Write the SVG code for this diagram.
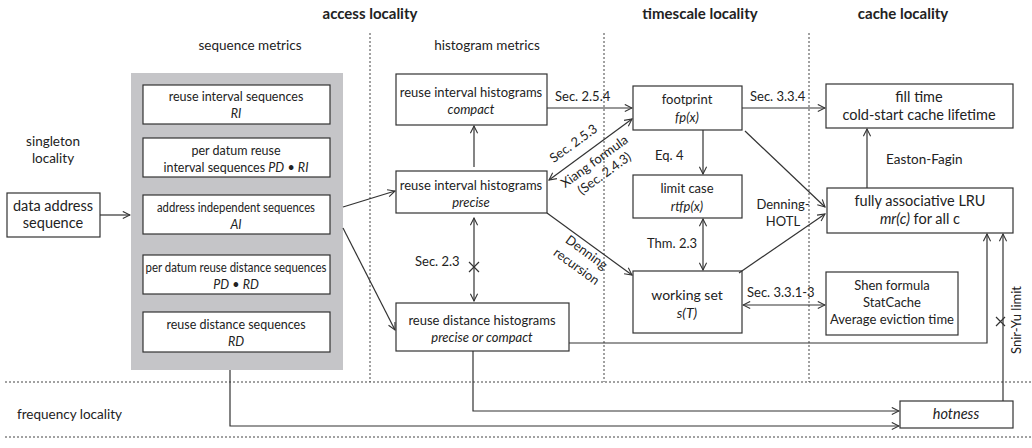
<svg xmlns="http://www.w3.org/2000/svg" width="1032" height="448" viewBox="0 0 1032 448">
<defs>
<marker id="ah" viewBox="0 0 10 10" refX="9" refY="5" markerWidth="9" markerHeight="9" orient="auto-start-reverse" markerUnits="userSpaceOnUse">
<path d="M1,1 L9,5 L1,9" fill="none" stroke="#333" stroke-width="1.2"/>
</marker>
<style>
text{font-family:Lato,"Open Sans","Liberation Sans",sans-serif;fill:#222;font-size:13px}
.hd{font-weight:bold;font-size:15px;text-anchor:middle}
.c{text-anchor:middle}
.i{font-style:italic}
.box{fill:#fff;stroke:#333;stroke-width:1.2}
.dot{stroke:#444;stroke-width:1;stroke-dasharray:2 2;fill:none}
.ln{stroke:#333;stroke-width:1.2;fill:none}
.ar{stroke:#333;stroke-width:1.2;fill:none;marker-end:url(#ah)}
.dar{stroke:#333;stroke-width:1.2;fill:none;marker-end:url(#ah);marker-start:url(#ah)}
.sm{font-size:12.5px}
.lg{font-size:13.5px}
.big{font-size:14.5px}
</style>
</defs>
<g id="frame">
<text class="hd" x="370" y="19">access locality</text>
<text class="hd" x="700" y="19">timescale locality</text>
<text class="hd" x="903" y="19">cache locality</text>
<text class="c lg" x="250" y="50">sequence metrics</text>
<text class="c lg" x="487" y="50">histogram metrics</text>
<text class="c lg" x="53" y="146">singleton</text>
<text class="c lg" x="53" y="163">locality</text>
<text class="lg" x="17" y="419">frequency locality</text>
<line class="dot" x1="370" y1="33" x2="370" y2="382"/>
<line class="dot" x1="604" y1="33" x2="604" y2="382"/>
<line class="dot" x1="809" y1="33" x2="809" y2="382"/>
<line class="dot" x1="5" y1="382" x2="1032" y2="382"/>
<line class="dot" x1="5" y1="437" x2="1032" y2="437"/>
<rect x="131" y="73" width="212" height="297" fill="#c5c5c8"/>
</g>
<g id="data-address">
<rect class="box" x="7" y="193" width="93" height="44"/>
<text class="c big" x="53" y="211">data address</text>
<text class="c big" x="53" y="228">sequence</text>
</g>
<g id="ri-seq">
<rect class="box" x="143" y="85" width="187" height="39"/>
<text class="c sm" x="236" y="101">reuse interval sequences</text>
<text class="c sm i" x="236" y="118">RI</text>
</g>
<g id="pdri-seq">
<rect class="box" x="143" y="138" width="187" height="39"/>
<text class="c sm" x="236" y="155">per datum reuse</text>
<text class="c sm" x="236" y="172">interval sequences  <tspan class="i">PD</tspan> • <tspan class="i">RI</tspan></text>
</g>
<g id="ai-seq">
<rect class="box" x="143" y="195" width="187" height="39"/>
<text class="c sm" x="236" y="212" textLength="158" lengthAdjust="spacingAndGlyphs">address independent sequences</text>
<text class="c sm i" x="236" y="229">AI</text>
</g>
<g id="pdrd-seq">
<rect class="box" x="143" y="255" width="187" height="39"/>
<text class="c sm" x="236" y="272" textLength="181" lengthAdjust="spacingAndGlyphs">per datum reuse distance sequences</text>
<text class="c sm" x="236" y="289"><tspan class="i">PD</tspan> • <tspan class="i">RD</tspan></text>
</g>
<g id="rd-seq">
<rect class="box" x="143" y="312" width="187" height="40"/>
<text class="c sm" x="236" y="329">reuse distance sequences</text>
<text class="c sm i" x="236" y="346">RD</text>
</g>
<g id="ri-compact">
<rect class="box" x="396" y="74" width="151" height="51"/>
<text class="c" x="471" y="97">reuse interval histograms</text>
<text class="c i" x="471" y="114">compact</text>
</g>
<g id="ri-precise">
<rect class="box" x="396" y="171" width="151" height="42"/>
<text class="c" x="471" y="190">reuse interval histograms</text>
<text class="c i" x="471" y="207">precise</text>
</g>
<g id="rd-hist">
<rect class="box" x="396" y="303" width="173" height="48"/>
<text class="c" x="482" y="325">reuse distance histograms</text>
<text class="c i" x="482" y="342">precise or compact</text>
</g>
<g id="footprint">
<rect class="box" x="633" y="86" width="109" height="44"/>
<text class="c" x="687" y="104">footprint</text>
<text class="c i" x="687" y="122">fp(x)</text>
</g>
<g id="limit-case">
<rect class="box" x="633" y="175" width="109" height="43"/>
<text class="c" x="687" y="193">limit case</text>
<text class="c i" x="687" y="211">rtfp(x)</text>
</g>
<g id="working-set">
<rect class="box" x="633" y="271" width="109" height="62"/>
<text class="c" style="font-size:14px" x="687" y="300">working set</text>
<text class="c i" style="font-size:14px" x="687" y="318">s(T)</text>
</g>
<g id="fill-time">
<rect class="box" x="826" y="84" width="187" height="44"/>
<text class="c big" x="919" y="102">fill time</text>
<text class="c big" x="919" y="120">cold-start cache lifetime</text>
</g>
<g id="lru">
<rect class="box" x="827" y="188" width="186" height="45"/>
<text class="c big" x="920" y="206">fully associative LRU</text>
<text class="c big" x="920" y="224"><tspan class="i">mr(c)</tspan> for all c</text>
</g>
<g id="shen">
<rect class="box" x="826" y="272" width="132" height="63"/>
<text class="c" x="892" y="290">Shen formula</text>
<text class="c" x="892" y="307">StatCache</text>
<text class="c" x="892" y="324">Average eviction time</text>
</g>
<g id="hotness">
<rect class="box" x="900" y="401" width="113" height="27"/>
<text class="c big i" x="956" y="419">hotness</text>
</g>
<g id="connectors">
<line class="ar" x1="100" y1="215" x2="130" y2="215"/>
<line class="ar" x1="343" y1="207" x2="395" y2="191"/>
<line class="ar" x1="343" y1="228" x2="395" y2="330"/>
<line class="ar" x1="474" y1="167" x2="474" y2="126"/>
<line class="dar" x1="474" y1="218" x2="474" y2="301"/>
<path class="ln" d="M469,262 L479,272 M479,262 L469,272"/>
<text x="415" y="266">Sec. 2.3</text>
<line class="ar" x1="547" y1="108" x2="632" y2="108"/>
<text x="555" y="101">Sec. 2.5.4</text>
<line class="dar" x1="549" y1="180" x2="632" y2="119"/>
<text class="c" transform="translate(576,147) rotate(-36)">Sec. 2.5.3</text>
<text class="c" transform="translate(597,165) rotate(-36)">Xiang formula</text>
<text class="c" transform="translate(607,177) rotate(-36)">(Sec. 2.4.3)</text>
<line class="ar" x1="547" y1="213" x2="632" y2="275"/>
<text class="c" transform="translate(584,256) rotate(36)">Denning</text>
<text class="c" transform="translate(574,270) rotate(36)">recursion</text>
<line class="ar" x1="703" y1="130" x2="703" y2="174"/>
<text x="655" y="160">Eq. 4</text>
<line class="dar" x1="703" y1="219" x2="703" y2="270"/>
<text x="647" y="248">Thm. 2.3</text>
<line class="ar" x1="742" y1="108" x2="825" y2="108"/>
<text x="750" y="101">Sec. 3.3.4</text>
<line class="ar" x1="745" y1="131" x2="825" y2="207"/>
<line class="ar" x1="739" y1="273" x2="825" y2="214"/>
<text class="c" x="783" y="209">Denning-</text>
<text class="c" x="783" y="226">HOTL</text>
<line class="dar" x1="743" y1="305" x2="825" y2="305"/>
<text x="747" y="297">Sec. 3.3.1-3</text>
<line class="ar" x1="867" y1="188" x2="867" y2="129"/>
<text class="lg" x="886" y="164">Easton-Fagin</text>
<path class="ar" d="M569,343 L987,343 L987,234"/>
<line class="ar" x1="1003" y1="401" x2="1003" y2="234"/>
<path class="ln" d="M996,317 L1005,326 M1005,317 L996,326"/>
<text class="c" transform="translate(1021,320) rotate(-90)">Snir-Yu limit</text>
<path class="ar" d="M473,351 L473,411 L899,411"/>
<path class="ar" d="M230,370 L230,426 L899,426"/>
</g>
</svg>
